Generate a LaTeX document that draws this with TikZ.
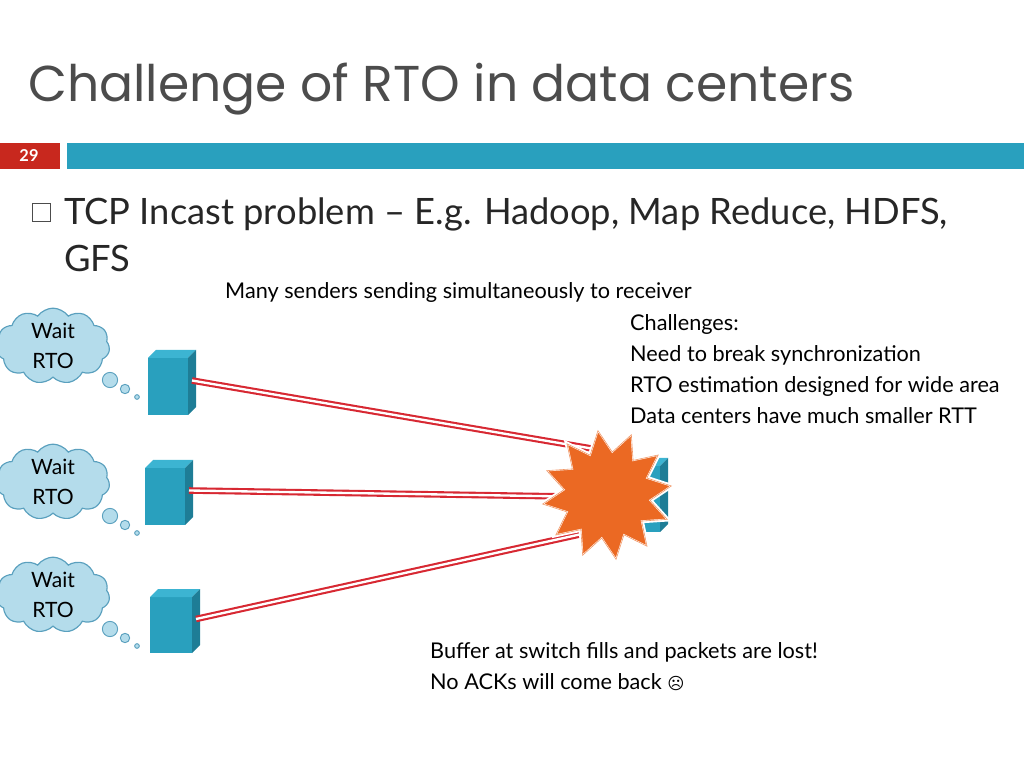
\documentclass[tikz,border=0pt]{standalone}
\usepackage{fontspec}
\setmainfont{Lato}
\newfontfamily\titlefont{Poppins}
\newfontfamily\symfont{DejaVu Sans}
\usetikzlibrary{shapes.symbols,shapes.geometric}
\definecolor{teal}{RGB}{41,160,190}
\definecolor{tealdark}{RGB}{30,125,150}
\definecolor{tealtop}{RGB}{60,180,210}
\definecolor{slidered}{RGB}{200,40,30}
\definecolor{cloudfill}{RGB}{180,220,235}
\definecolor{cloudline}{RGB}{90,160,190}
\definecolor{boomfill}{RGB}{235,105,35}
\definecolor{wire}{RGB}{215,40,50}
\tikzset{
 cloudnode/.style={cloud, cloud puffs=11, cloud puff arc=110, aspect=1.6, draw=cloudline, fill=cloudfill, line width=1pt, minimum width=3.4cm, minimum height=2.1cm, align=center, font=\fontsize{18}{25}\selectfont, inner sep=0pt},
 bubble/.style={circle, draw=cloudline, fill=cloudfill, line width=0.8pt, inner sep=0pt},
 wireline/.style={draw=wire, double=white, double distance=2pt, line width=1.8pt},
 txt/.style={anchor=west, inner sep=0pt, font=\fontsize{18.5}{22}\selectfont}
}
\newcommand{\cube}[5]{% name, x, y (top-left of front), w, h
 \fill[teal] (#2,-#3) rectangle ++(#4,-#5);
 \fill[tealtop] (#2,-#3) -- ++(8,8) -- ++(#4,0) -- ++(-8,-8) -- cycle;
 \fill[tealdark] (#2+#4,-#3) -- ++(8,8) -- ++(0,-#5) -- ++(-8,-8) -- cycle;
 \coordinate (#1) at (#2+#4+4,-#3-#5/2+6);
}
\begin{document}
\begin{tikzpicture}[x=0.03cm,y=0.03cm]
\useasboundingbox (0,0) rectangle (1024,-768);
\clip (0,0) rectangle (1024,-768);
\node[anchor=base west, inner sep=0pt, text=black!70, font=\titlefont\fontsize{43}{50}\selectfont] (title) at (28,-102) {Challenge of RTO in data centers};
\fill[slidered] (0,-143) rectangle (60,-169);
\node[text=white, font=\bfseries\fontsize{14}{15}\selectfont] (num) at (29,-156) {29};
\fill[teal] (67,-143) rectangle (1024,-169);
\draw[black!70, line width=0.8pt] (32,-203) rectangle (50,-221) coordinate (bul);
\node[txt, font=\fontsize{31}{40}\selectfont, text=black!85, align=left, anchor=north west] (tcp) at (64,-198) {TCP Incast problem -- E.g. Hadoop, Map Reduce, HDFS,\\GFS};
\node[txt] (many) at (225,-292) {Many senders sending simultaneously to receiver};
\node[txt, anchor=north west, align=left, font=\fontsize{18.5}{26.5}\selectfont] (chal) at (630,-314) {Challenges:\\Need to break synchronization\\RTO estimation designed for wide area\\Data centers have much smaller RTT};
\node[txt, anchor=north west, align=left, font=\fontsize{18.5}{26.5}\selectfont] (buf) at (430,-642) {Buffer at switch fills and packets are lost!\\No ACKs will come back {\symfont\fontsize{14}{16}\selectfont ☹}};
% receiver
\cube{recv}{620}{466}{40}{66}
% senders
\cube{s1}{148}{358}{40}{57}
\cube{s2}{145}{468}{40}{57}
\cube{s3}{150}{597}{42}{56}
\coordinate (r1) at (612,-452);
\coordinate (r2) at (600,-497);
\coordinate (r3) at (600,-530);
\draw[wireline] (s1) -- (r1);
\draw[wireline] (s2) -- (r2);
\draw[wireline] (s3) -- (r3);
\node[star, star points=12, star point ratio=1.5, minimum size=4.0cm, fill=boomfill, draw=white, line width=2.5pt, rotate=8] (boom) at (607,-495) {};
\node[star, star points=12, star point ratio=1.5, minimum size=3.9cm, draw=boomfill!70!white, line width=0.5pt, rotate=8] (boomline) at (607,-495) {};
% clouds
\foreach \n/\y in {c1/346,c2/482,c3/595}{
 \node[cloudnode] (\n) at (53,-\y) {Wait\\RTO};
 \node[bubble, minimum size=13pt] (\n a) at (110,-\y-34) {};
 \node[bubble, minimum size=8pt] (\n b) at (125,-\y-43) {};
 \node[bubble, minimum size=4pt] (\n c) at (137,-\y-51) {};
}
\end{tikzpicture}
\end{document}
